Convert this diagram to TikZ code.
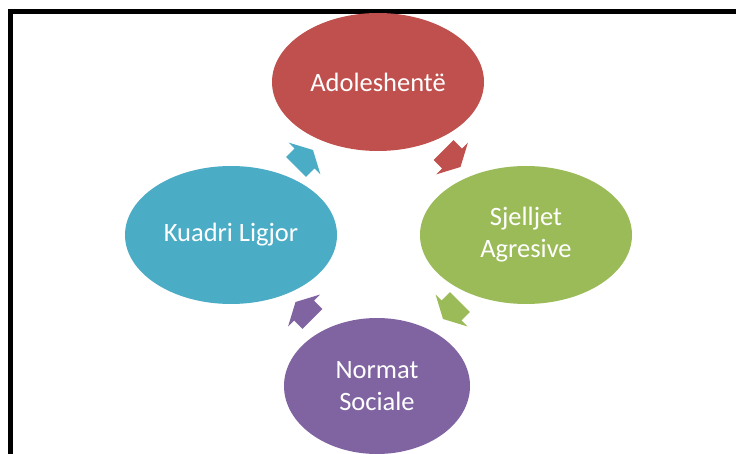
\documentclass[tikz,border=0pt]{standalone}
\usepackage{fontspec}
\setmainfont{Carlito}
\usetikzlibrary{calc,shapes.geometric}
\definecolor{cred}{HTML}{C0504D}
\definecolor{cgreen}{HTML}{9BBB59}
\definecolor{cpurple}{HTML}{8064A2}
\definecolor{cteal}{HTML}{4BACC6}
\begin{document}
\begin{tikzpicture}[x=1pt,y=-1pt,
  bubble/.style={ellipse, minimum width=212pt, minimum height=138pt, inner sep=0pt,
    text=white, font=\fontsize{26.5}{32}\selectfont, align=center},
  cycarrow/.pic={\fill[#1] (-12,-14) -- (0,-14) -- (0,-22.5) -- (12,0) -- (0,22.5) -- (0,14) -- (-12,14) -- cycle;}]
\useasboundingbox (0,0) rectangle (736,454);
\clip (0,0) rectangle (736,454);
\fill[white] (0,0) rectangle (736,454);
\draw[line width=5pt] (10.8,470) -- (10.8,11.7) -- (750,11.7);
\node[bubble, fill=cred] (ado) at (378,82) {Adoleshentë};
\node[bubble, fill=cgreen] (sje) at (526,235) {Sjelljet\\Agresive};
\node[bubble, fill=cpurple, minimum width=186pt, minimum height=136pt] (nor) at (377,386) {Normat\\Sociale};
\node[bubble, fill=cteal] (kua) at (231,235) {Kuadri Ligjor};
\path ($(ado)!0.5!(sje)$) pic[rotate=-45] {cycarrow=cred};
\path ($(sje)!0.5!(nor)$) pic[rotate=-135] {cycarrow=cgreen};
\path ($(nor)!0.5!(kua)$) pic[rotate=135] {cycarrow=cpurple};
\path ($(kua)!0.5!(ado)$) pic[rotate=45] {cycarrow=cteal};
\end{tikzpicture}
\end{document}
